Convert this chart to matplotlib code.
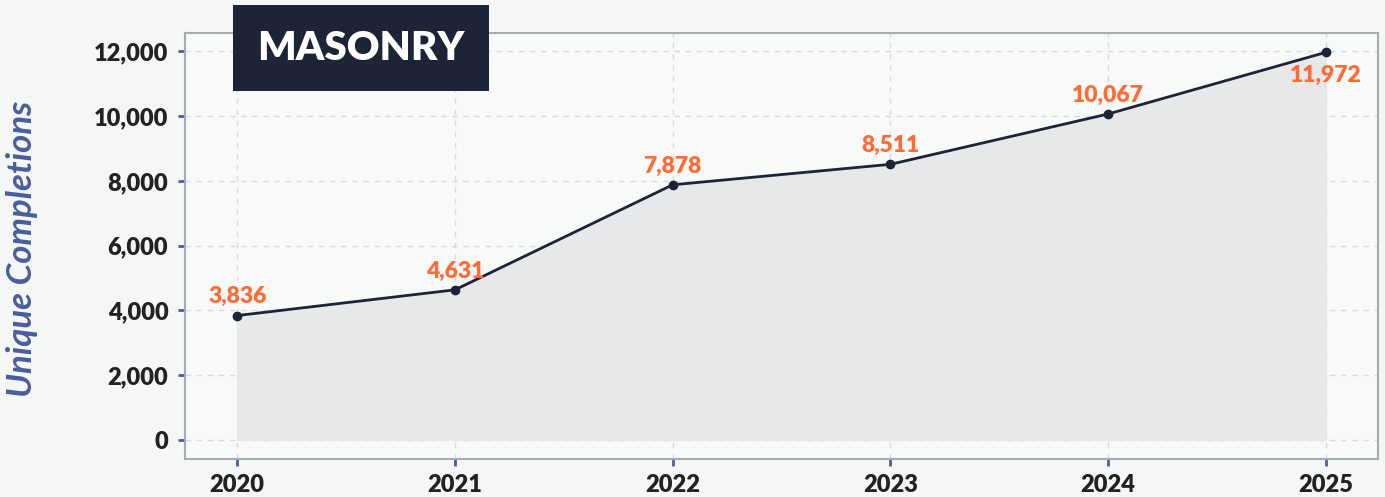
import numpy as np
import matplotlib.pyplot as plt
from matplotlib.ticker import FuncFormatter

# data
years = [2020, 2021, 2022, 2023, 2024, 2025]
completions = [3836, 4631, 7878, 8511, 10067, 11972]
title = 'MASONRY'
ylabel = 'Unique Completions'

navy = '#1c2436'
orange = '#ff6b35'
blue = '#4a5d9c'

plt.rcParams['font.family'] = ['Lato', 'DejaVu Sans']

fig = plt.figure(figsize=(13.85, 4.97), dpi=100, facecolor='#f5f6f6')
ax = fig.add_axes([185 / 1385, 1 - 459 / 497, (1378 - 185) / 1385, (459 - 33) / 497])
ax.set_facecolor('#f8f9f9')

ax.fill_between(years, completions, 0, color='#e7e8ea', zorder=1)
ax.plot(years, completions, color=navy, lw=2, marker='o', ms=6, zorder=3)

for i, (x, y) in enumerate(zip(years, completions)):
    if i == len(years) - 1:
        off, va = -9, 'top'
    else:
        off, va = 6, 'bottom'
    ax.annotate(f'{y:,}', (x, y), xytext=(0, off), textcoords='offset points',
                ha='center', va=va, color=orange, fontsize=16.5, fontweight='heavy', zorder=4)

ax.set_xlim(2019.76, 2025.24)
ax.set_ylim(-599, 12571)
ax.set_xticks(years)
ax.set_yticks(np.arange(0, 12001, 2000))
ax.yaxis.set_major_formatter(FuncFormatter(lambda v, p: f'{int(v):,}'))

ax.grid(True, ls=(0, (4, 4)), color='#d9dbde', lw=1, zorder=0)
ax.set_axisbelow(True)
for s in ax.spines.values():
    s.set_color('#a9acae')
    s.set_linewidth(1.5)

ax.tick_params(axis='both', colors=blue, length=5, width=2, labelcolor='#222222', labelsize=17)
for lbl in ax.get_xticklabels() + ax.get_yticklabels():
    lbl.set_fontweight('heavy')
ax.tick_params(axis='y', pad=7)
ax.tick_params(axis='x', pad=6)

fig.text(22 / 1385, 1 - 249 / 497, ylabel, rotation=90, ha='center', va='center',
         color=blue, fontsize=25, fontstyle='italic', fontweight='bold')

fig.text(361 / 1385, 1 - 48 / 497, title, ha='center', va='center', color='white',
         fontsize=29, fontweight='heavy',
         bbox=dict(boxstyle='square,pad=0.6', fc=navy, ec='none'))

fig.savefig('out.png', dpi=100, facecolor=fig.get_facecolor())
